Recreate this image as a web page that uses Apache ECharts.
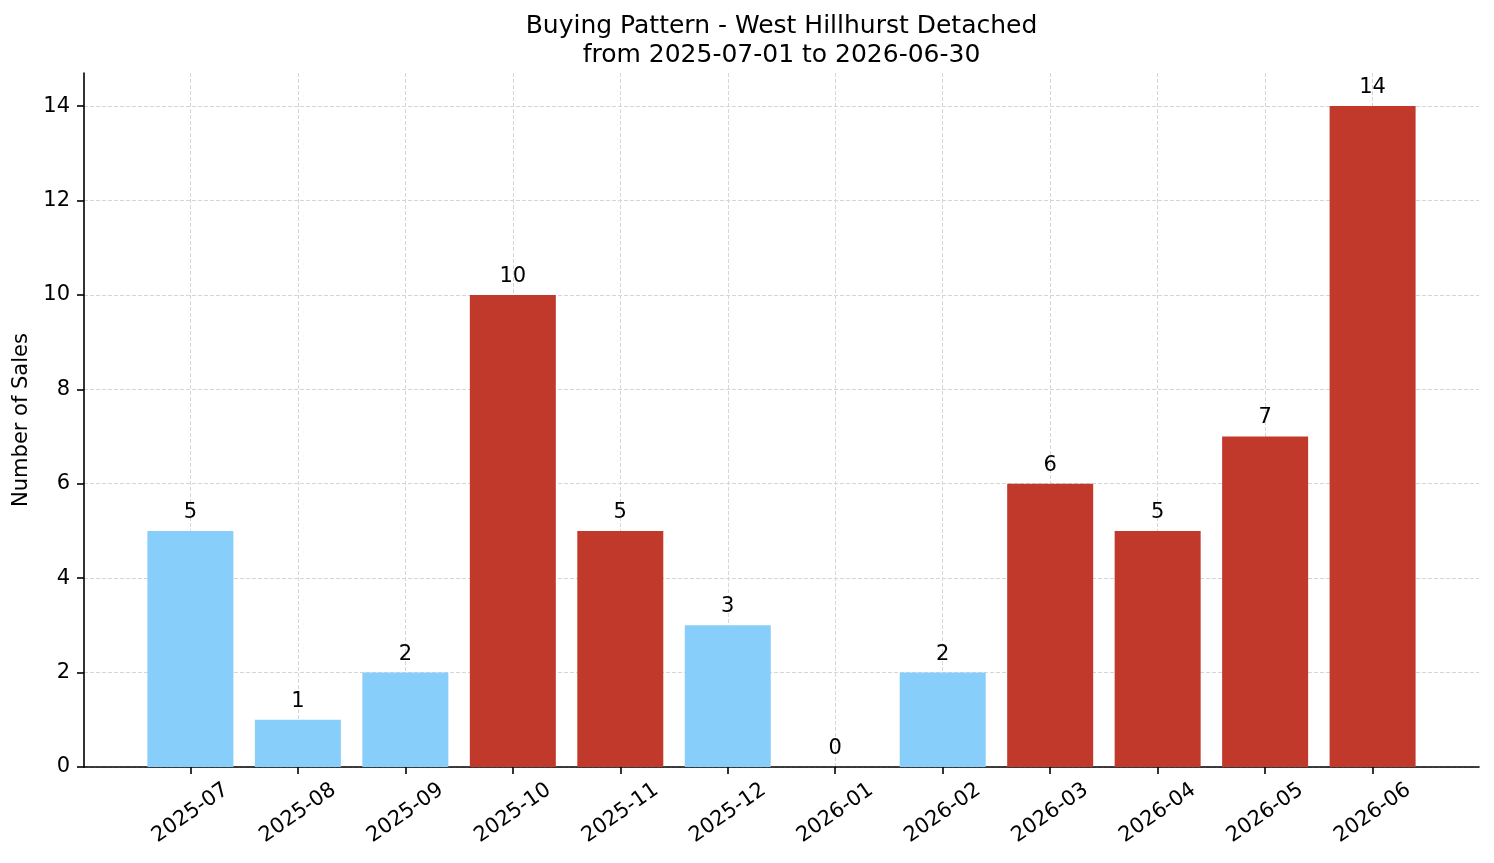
<!DOCTYPE html>
<html>
<head>
<meta charset="utf-8">
<script src="https://cdn.jsdelivr.net/npm/echarts@6/dist/echarts.min.js"></script>
<style>
  html, body { margin: 0; padding: 0; background: #fff; }
  #chart { width: 1494px; height: 863px; }
</style>
</head>
<body>
<div id="chart"></div>
<script>
// monthly sales, West Hillhurst detached
var months = ['2025-07', '2025-08', '2025-09', '2025-10', '2025-11', '2025-12',
              '2026-01', '2026-02', '2026-03', '2026-04', '2026-05', '2026-06'];
var sales = [5, 1, 2, 10, 5, 3, 0, 2, 6, 5, 7, 14];
// months drawn in red (busy months)
var busy = [0, 0, 0, 1, 1, 0, 0, 0, 1, 1, 1, 1];
var yTicks = [0, 2, 4, 6, 8, 10, 12, 14];

var FONT = 'DejaVu Sans';
var BLUE = '#87CEFA', RED = '#C0392B';

var chart = echarts.init(document.getElementById('chart'));

var xIdx = months.map(function (m, i) { return i; });
var barData = sales.map(function (v, i) {
    return { value: [i, v], itemStyle: { color: busy[i] ? RED : BLUE } };
});

var gridLine = { show: true, lineStyle: { color: '#d6d6d6', width: 1, type: [4, 2] } };
var axisStyle = { color: '#000', width: 1.6 };

var option = {
    animation: false,
    backgroundColor: '#fff',
    textStyle: { fontFamily: FONT },
    graphic: [
        { type: 'text', x: 781.5, y: 26, style: { text: 'Buying Pattern - West Hillhurst Detached', font: '25px "DejaVu Sans"', fill: '#000', textAlign: 'center', textVerticalAlign: 'middle' } },
        { type: 'text', x: 781.5, y: 55, style: { text: 'from 2025-07-01 to 2026-06-30', font: '25px "DejaVu Sans"', fill: '#000', textAlign: 'center', textVerticalAlign: 'middle' } }
    ],
    grid: { left: 84, right: 15, top: 73, bottom: 96, containLabel: false, outerBoundsMode: 'none' },
    xAxis: {
        type: 'value',
        min: -0.99,
        max: 11.99,
        axisLine: { show: true, onZero: false, lineStyle: axisStyle },
        axisTick: { show: true, length: 7, customValues: xIdx, lineStyle: axisStyle },
        axisLabel: {
            customValues: xIdx,
            rotate: 35,
            align: 'center',
            verticalAlign: 'middle',
            margin: 46,
            fontSize: 21,
            color: '#000',
            fontFamily: FONT,
            formatter: function (v) { return months[Math.round(v)] || ''; }
        },
        splitLine: gridLine
    },
    yAxis: {
        type: 'value',
        min: 0,
        max: 14.7,
        name: 'Number of Sales',
        nameLocation: 'middle',
        nameRotate: 90,
        nameGap: 48,
        nameTextStyle: { fontSize: 21, color: '#000', fontFamily: FONT },
        axisLine: { show: true, onZero: false, lineStyle: axisStyle },
        axisTick: { show: true, length: 7, customValues: yTicks, lineStyle: axisStyle },
        axisLabel: { customValues: yTicks, fontSize: 21, color: '#000', margin: 14, fontFamily: FONT },
        splitLine: gridLine
    },
    series: [{
        type: 'bar',
        data: barData,
        barWidth: 86,
        label: {
            show: true,
            position: 'top',
            distance: 8,
            fontSize: 21,
            color: '#000',
            fontFamily: FONT,
            formatter: function (p) { return p.value[1]; }
        }
    }]
};

chart.setOption(option);
</script>
</body>
</html>
